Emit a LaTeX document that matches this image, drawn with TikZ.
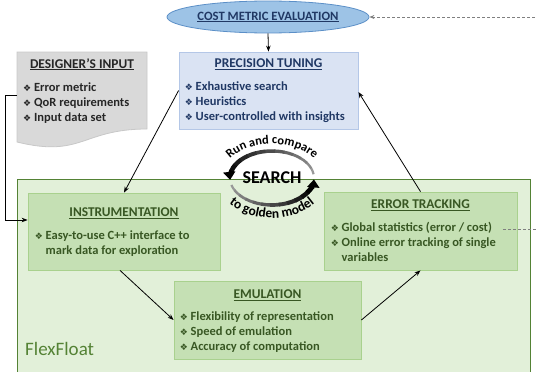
\documentclass[tikz,border=0pt]{standalone}
\usepackage{fontspec}
\setmainfont{Carlito}
\newfontfamily\symfont{DejaVu Sans}
\usetikzlibrary{arrows.meta,positioning,calc,shapes.geometric,decorations.text}

\definecolor{costfill}{HTML}{9DC3E6}
\definecolor{costline}{HTML}{5B8FC7}
\definecolor{tunefill}{HTML}{DAE3F3}
\definecolor{tuneline}{HTML}{B4C7E7}
\definecolor{tunetext}{HTML}{203864}
\definecolor{docfill}{HTML}{D9D9D9}
\definecolor{docline}{HTML}{C8C8C8}
\definecolor{doctext}{HTML}{262626}
\definecolor{flexfill}{HTML}{E2F0D9}
\definecolor{flexline}{HTML}{548235}
\definecolor{greenfill}{HTML}{C5E0B4}
\definecolor{greenline}{HTML}{A9D18E}
\definecolor{greentext}{HTML}{385723}
\definecolor{linkgray}{HTML}{7F7F7F}

% bullet of the item lists, and the same width as blank indent
\newcommand{\bul}{{\symfont\fontsize{9}{9}\selectfont\char"2756}\ }
\newcommand{\cont}{\phantom{\bul}}

\begin{document}
\begin{tikzpicture}[x=1pt,y=-1pt,
  tunebox/.style={draw=tuneline, fill=tunefill, line width=0.8pt, minimum width=179pt, minimum height=77pt},
  greenbox/.style={draw=greenline, fill=greenfill, line width=0.8pt, minimum height=78pt},
  title/.style={font=\fontsize{13.4}{15}\selectfont\bfseries, anchor=base, inner sep=0pt},
  items/.style={font=\fontsize{12.5}{15}\selectfont\bfseries, align=left, anchor=north west, inner sep=0pt},
  flow/.style={-{Stealth[length=6pt,width=4.5pt]}, line width=0.8pt},
  costlink/.style={draw=linkgray, dash pattern=on 3pt off 2pt, line width=0.8pt, -{Stealth[length=5pt,width=4pt]}},
  curved/.style 2 args={decorate, decoration={text along path, text align=center, text={|\fontsize{#1}{#1}\selectfont\bfseries|#2}}}
]
\clip (0,0) rectangle (536,372);

% FlexFloat frame
\node[draw=flexline, fill=flexfill, line width=0.8pt, minimum width=513pt, minimum height=200pt, anchor=north west, inner sep=0pt] (flex) at (17,179) {};
\node[font=\fontsize{19}{22}\selectfont, text=flexline, anchor=base west, inner sep=0pt] (flexlabel) at (25,355) {FlexFloat};

% cost metric
\node[ellipse, draw=costline, fill=costfill, line width=0.8pt, minimum width=202pt, minimum height=32pt, inner sep=0pt,
  font=\fontsize{12.7}{14}\selectfont\bfseries, text=tunetext] (cost) at (268,17) {\underline{COST METRIC EVALUATION}};

% precision tuning
\node[tunebox] (tuning) at (268.5,90.5) {};
\node[title, text=tunetext] (tuningtitle) at ([yshift=-16pt]tuning.north) {\underline{PRECISION TUNING}};
\node[items, text=tunetext] (tuninglist) at ([xshift=6pt,yshift=-30.2pt]tuning.north west)
  {\bul Exhaustive search\\ \bul Heuristics\\ \bul User-controlled with insights};

% designer's input (document shape)
\path[draw=docline, fill=docfill, line width=0.8pt] (17,52) -- (147,52) -- (147,129)
  .. controls (82,129) and (82,158) .. (17,142) -- cycle;
\node[title, text=doctext] (designertitle) at (82,68) {\underline{DESIGNER’S INPUT}};
\node[items, text=doctext] (designerlist) at (23,82.2)
  {\bul Error metric\\ \bul QoR requirements\\ \bul Input data set};
\coordinate (designerout) at (17,95);

% instrumentation
\node[greenbox, minimum width=192pt, minimum height=77pt] (instr) at (124,231.5) {};
\node[title, text=greentext] (instrtitle) at ([yshift=-24pt]instr.north) {\underline{INSTRUMENTATION}};
\node[items, text=greentext] (instrlist) at ([xshift=7pt,yshift=-37.7pt]instr.north west)
  {\bul Easy-to-use C++ interface to\\ \cont mark data for exploration};

% error tracking
\node[greenbox, minimum width=193pt] (errtrack) at (420.5,231) {};
\node[title, text=greentext] (errtitle) at ([yshift=-17pt]errtrack.north) {\underline{ERROR TRACKING}};
\node[items, text=greentext] (errlist) at ([xshift=7pt,yshift=-30.7pt]errtrack.north west)
  {\bul Global statistics (error / cost)\\ \bul Online error tracking of single\\ \cont variables};
\coordinate (globalstat) at (503,229);

% emulation
\node[greenbox, minimum width=187pt] (emul) at (267.5,320) {};
\node[title, text=greentext] (emultitle) at ([yshift=-18pt]emul.north) {\underline{EMULATION}};
\node[items, text=greentext] (emullist) at ([xshift=6pt,yshift=-30.7pt]emul.north west)
  {\bul Flexibility of representation\\ \bul Speed of emulation\\ \bul Accuracy of computation};

% flow between the blocks
\draw[flow] (cost.south) -- (tuning.north);
\draw[flow] (tuning.west) -- (instr.north);
\draw[flow] ([xshift=-4pt]instr.south) -- (emul.west);
\draw[flow] (emul.east) -- (errtrack.south);
\draw[flow] (errtrack.north) -- ([yshift=-1.5pt]tuning.east);
\draw[flow] (designerout) -- ++(-12,0) |- ([yshift=11.5pt]instr.west);
\draw[costlink] (globalstat) -- ++(50,0) |- (cost.east);

% search loop
\coordinate (loop) at (272,178);
\node[font=\fontsize{18}{21}\selectfont\bfseries, inner sep=0pt] (search) at (loop) {SEARCH};
\foreach \k in {0,...,11}{
  \pgfmathsetmacro\bk{int(40+\k*5)}
  \pgfmathsetmacro\lw{2.2+\k*0.22}
  \draw[line width=\lw pt, draw=black!\bk] ($(loop)+(8+\k*13:42pt and 27pt)$)
    arc[start angle=8+\k*13, end angle=22+\k*13, x radius=42pt, y radius=27pt];
}
\draw[line width=4.8pt, -{Triangle[length=8pt,width=12pt]}] ($(loop)+(164:42pt and 27pt)$)
  arc[start angle=164, end angle=184, x radius=42pt, y radius=27pt];
\foreach \k in {0,...,10}{
  \pgfmathsetmacro\bk{int(40+\k*5.5)}
  \pgfmathsetmacro\lw{2.2+\k*0.24}
  \draw[line width=\lw pt, draw=black!\bk] ($(loop)+(195+\k*12:42pt and 27pt)$)
    arc[start angle=195+\k*12, end angle=209+\k*12, x radius=42pt, y radius=27pt];
}
\draw[line width=4.8pt, -{Triangle[length=8pt,width=12pt]}] ($(loop)+(327:42pt and 27pt)$)
  arc[start angle=327, end angle=357, x radius=42pt, y radius=27pt];
\path[curved={12.5}{Run and compare}] ($(loop)+(168:51pt and 34pt)$)
  arc[start angle=168, end angle=12, x radius=51pt, y radius=34pt];
\path[curved={13.5}{to golden model}] ($(loop)+(192:56pt and 40pt)$)
  arc[start angle=192, end angle=348, x radius=56pt, y radius=40pt];
\end{tikzpicture}
\end{document}
